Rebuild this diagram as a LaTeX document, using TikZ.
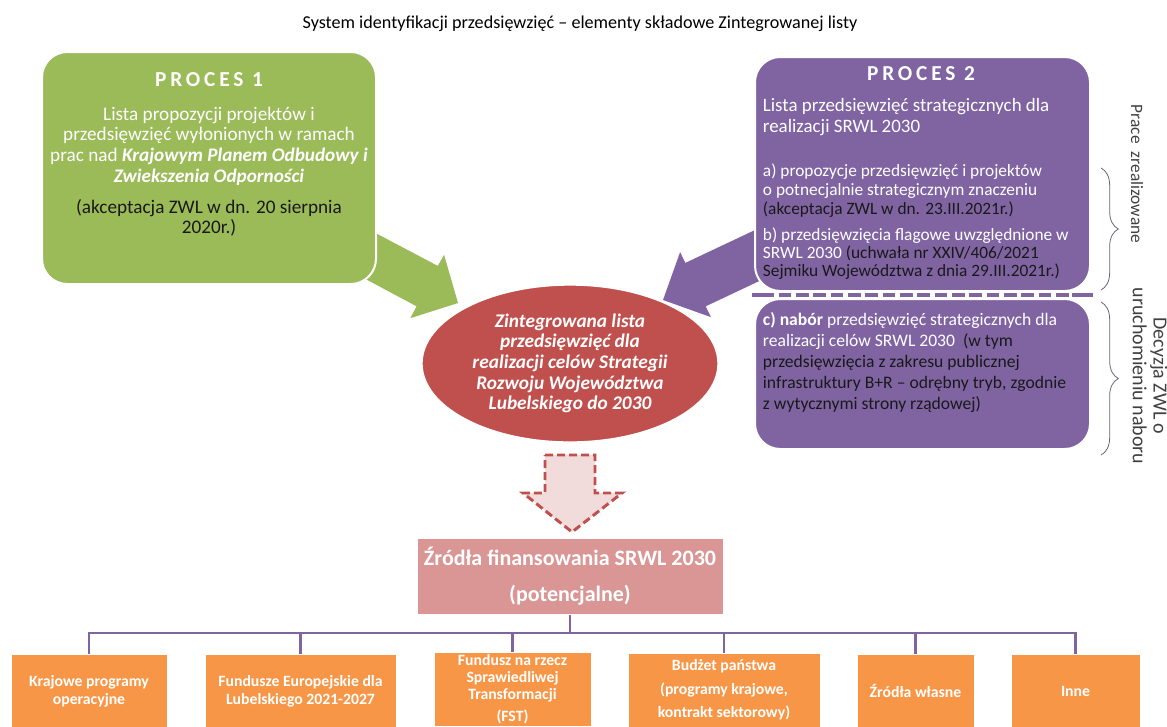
\documentclass[tikz,border=0pt]{standalone}
\usepackage{fontspec}
\setmainfont{Carlito}
\usetikzlibrary{shapes.geometric,decorations.pathreplacing}

\definecolor{procgreen}{RGB}{155,187,89}
\definecolor{procviolet}{RGB}{128,100,162}
\definecolor{listred}{RGB}{192,80,77}
\definecolor{srcpink}{RGB}{217,150,148}
\definecolor{arrowpink}{RGB}{242,220,219}
\definecolor{fundorange}{RGB}{247,150,70}
\definecolor{notedark}{RGB}{25,25,25}
\definecolor{sidegray}{RGB}{64,64,64}
\definecolor{bracegray}{RGB}{110,95,125}

\tikzset{every picture/.style={line width=0.75pt}}
\tikzset{
  procbox/.style={rectangle, rounded corners=19pt, draw=white, line width=1.5pt, inner sep=0pt},
  proctitle/.style={text=white, font=\bfseries\fontsize{16}{18}\selectfont\addfontfeature{LetterSpace=18}},
  fundbox/.style={rectangle, fill=fundorange, draw=white, line width=0.75pt, inner sep=0pt, minimum height=55.5pt, align=center, text=white, font=\bfseries\fontsize{11.8}{13.5}\selectfont},
  bus/.style={draw=procviolet, line width=2.2pt},
  sidenote/.style={rotate=-90, align=center, text=sidegray},
  sidebrace/.style={draw=bracegray, line width=0.6pt, decorate, decoration={brace, amplitude=13pt}}
}

\begin{document}
\begin{tikzpicture}[x=0.75pt,y=0.75pt,yscale=-1,xscale=1]
\useasboundingbox (0,0) rectangle (1167,726);
\clip (0,0) rectangle (1167,726);

% Text Node
\node[text=black, font=\fontsize{13.6}{15}\selectfont] (title) at (580,24) {System identyfikacji przedsięwzięć – elementy składowe Zintegrowanej listy};

%Shape: Arrow [green]
\draw[fill=procgreen, draw=none] (305.8,196.2) -- (437.8,265.9) -- (444.1,254.8) -- (458,303) -- (410.3,318.2) -- (416.6,306.3) -- (284.6,235.8) -- cycle ;
%Shape: Arrow [violet]
\draw[fill=procviolet, draw=none] (793.8,211.7) -- (685.3,262.9) -- (680.1,252.1) -- (663,300) -- (710.9,317.1) -- (705.7,306.3) -- (814.3,255.1) -- cycle ;

%Shape: Rounded Rectangle [proces 1]
\node[procbox, fill=procgreen, minimum width=250.5pt, minimum height=174pt] (proc1) at (209,168) {};
%Shape: Rounded Rectangle [proces 2, done]
\node[procbox, fill=procviolet, minimum width=251.25pt, minimum height=175.5pt] (proc2a) at (922.5,174) {};
%Shape: Rounded Rectangle [proces 2, call]
\node[procbox, fill=procviolet, minimum width=251.25pt, minimum height=112.5pt] (proc2b) at (922.5,374) {};
%Straight Lines [separator]
\draw[procviolet, line width=3pt] (752,295) -- (1093,295) ;
\draw[white, line width=2.6pt, dash pattern=on 3.5pt off 9.5pt] (774,295) -- (1072,295) ;

% Text Node
\node[proctitle] (p1title) at (209,80) {PROCES 1};
% Text Node
\node[align=center, text=white, font=\fontsize{14.4}{15.5}\selectfont] (p1list) at (209,146) {Lista propozycji projektów i\\przedsięwzięć wyłonionych w ramach\\prac nad \textbf{\textit{Krajowym Planem Odbudowy i}}\\\textbf{\textit{Zwiekszenia Odporności}}};
% Text Node
\node[align=center, text=notedark, font=\fontsize{14.4}{15}\selectfont] (p1note) at (209,218) {(akceptacja ZWL w dn. 20 sierpnia\\2020r.)};

% Text Node
\node[proctitle] (p2title) at (921,74) {PROCES 2};
% Text Node
\node[anchor=west, align=left, text=white, font=\fontsize{14.2}{15.75}\selectfont] (p2list) at (758,117.5) {Lista przedsięwzięć strategicznych dla\\realizacji SRWL 2030};
% Text Node
\node[anchor=west, align=left, text=white, font=\fontsize{13}{14.2}\selectfont] (p2a) at (758,190.5) {a) propozycje przedsięwzięć i projektów\\o potnecjalnie strategicznym znaczeniu\\\textcolor{notedark}{(akceptacja ZWL w dn. 23.III.2021r.)}};
% Text Node
\node[anchor=west, align=left, text=white, font=\fontsize{13}{13.6}\selectfont] (p2b) at (758,254) {b) przedsięwzięcia flagowe uwzględnione w\\SRWL 2030 \textcolor{notedark}{(uchwała nr XXIV/406/2021}\\\textcolor{notedark}{Sejmiku Województwa z dnia 29.III.2021r.)}};
% Text Node
\node[anchor=west, align=left, text=white, font=\fontsize{13.2}{15.6}\selectfont] (p2c) at (758,362.5) {\textbf{c) nabór} przedsięwzięć strategicznych dla\\realizacji celów SRWL 2030 \ \textcolor{notedark}{(w tym}\\\textcolor{notedark}{przedsięwzięcia z zakresu publicznej}\\\textcolor{notedark}{infrastruktury B+R – odrębny tryb, zgodnie}\\\textcolor{notedark}{z wytycznymi strony rządowej)}};

%Shape: Brace
\draw[sidebrace] (1101,168) -- (1101,290) ;
%Shape: Brace
\draw[sidebrace] (1101,302) -- (1101,455) ;
% Text Node
\node[sidenote, font=\fontsize{13}{15}\selectfont] (side1) at (1137,174) {Prace\ \ zrealizowane};
% Text Node
\node[sidenote, font=\fontsize{15}{15.5}\selectfont] (side2) at (1150,376) {Decyzja ZWL o\\uruchomieniu naboru};

%Shape: Ellipse [integrated list]
\node[ellipse, fill=listred, draw=white, line width=1pt, minimum width=222pt, minimum height=117.75pt, inner sep=0pt] (intlist) at (570,363.5) {};
% Text Node
\node[align=center, text=white, font=\bfseries\itshape\fontsize{14.5}{15.5}\selectfont] (intlisttext) at (intlist.center) {Zintegrowana lista\\przedsięwzięć dla\\realizacji celów Strategii\\Rozwoju Województwa\\Lubelskiego do 2030};

%Shape: Down Arrow [dashed]
\draw[fill=arrowpink, draw=listred, line width=2.2pt, dash pattern=on 6pt off 3pt] (545,455) -- (595,455) -- (595,493) -- (622,493) -- (572,532) -- (523,493) -- (545,493) -- cycle ;

%Shape: Rectangle [sources]
\node[rectangle, fill=srcpink, draw=white, inner sep=0pt, minimum width=229.5pt, minimum height=57pt, align=center, text=white, font=\bfseries\fontsize{16.5}{27}\selectfont] (zrodla) at (570,576) {Źródła finansowania SRWL 2030\\(potencjalne)};

% Funding boxes
\node[fundbox, minimum width=117pt] (kpo) at (89,691) {Krajowe programy\\operacyjne};
\node[fundbox, minimum width=143.25pt] (fel) at (300.5,691) {Fundusze Europejskie dla\\Lubelskiego 2021-2027};
\node[fundbox, minimum width=117.75pt, font=\bfseries\fontsize{11.8}{12.8}\selectfont] (fst) at (512.5,689) {Fundusz na rzecz\\Sprawiedliwej\\Transformacji\\[4pt](FST)};
\node[fundbox, minimum width=144pt, font=\bfseries\fontsize{11.8}{17.5}\selectfont] (budzet) at (724,690) {Budżet państwa\\(programy krajowe,\\kontrakt sektorowy)};
\node[fundbox, minimum width=87.75pt] (wlasne) at (915.5,691) {Źródła własne};
\node[fundbox, minimum width=96.75pt] (inne) at (1075.5,691) {Inne};

%Straight Lines [bus]
\coordinate (busy) at (571,633);
\draw[bus] (zrodla.south) -- (zrodla.south |- busy) ;
\draw[bus] (kpo.north) -- (kpo.north |- busy) -- (inne.north |- busy) -- (inne.north) ;
\draw[bus] (fel.north) -- (fel.north |- busy) ;
\draw[bus] (fst.north) -- (fst.north |- busy) ;
\draw[bus] (budzet.north) -- (budzet.north |- busy) ;
\draw[bus] (wlasne.north) -- (wlasne.north |- busy) ;

\end{tikzpicture}
\end{document}
